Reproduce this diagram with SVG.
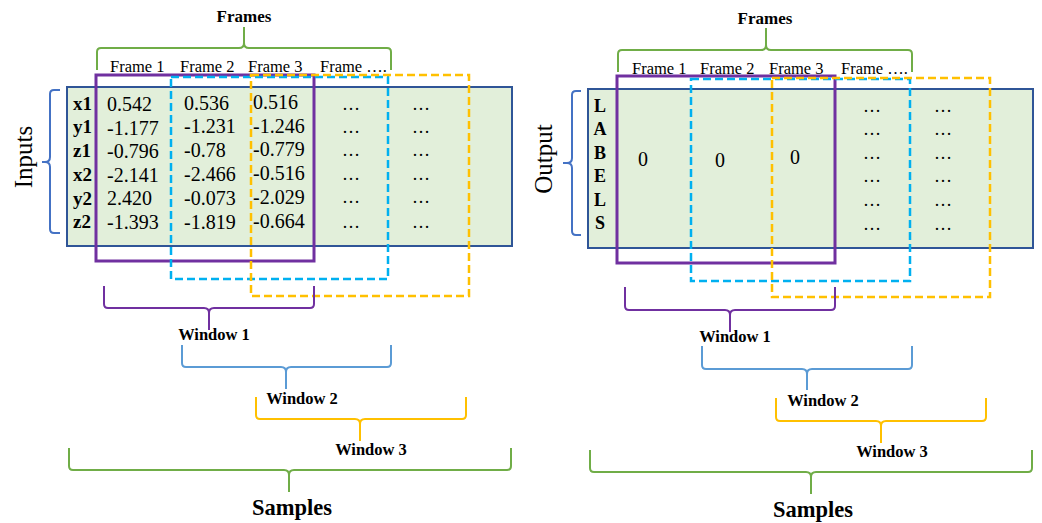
<svg xmlns="http://www.w3.org/2000/svg" width="1042" height="523" viewBox="0 0 1042 523">
<style>
text{font-family:"Liberation Serif","Times New Roman",serif;fill:#000}
.val{font-size:20px}
.lab{font-size:19px;font-weight:bold}
.lab2{font-size:18px;font-weight:bold;text-anchor:middle}
.fr{font-size:16.5px}
.ttl{font-size:17px;font-weight:bold;text-anchor:middle}
.win{font-size:16.5px;font-weight:bold;text-anchor:middle}
.smp{font-size:22.5px;font-weight:bold;text-anchor:middle}
.side{font-size:25px;text-anchor:middle}
.dot{font-size:18px;text-anchor:middle}
.zero{font-size:20px;text-anchor:middle}
.tbl{fill:#e2efda;stroke:#2f5597;stroke-width:2}
.br{fill:none;stroke-width:2}
.w1{fill:none;stroke:#7030a0;stroke-width:3}
.w2{fill:none;stroke:#00b0f0;stroke-width:2.5;stroke-dasharray:8 4}
.w3{fill:none;stroke:#ffc000;stroke-width:2.5;stroke-dasharray:8 4}
</style>

<g id="left-panel">
  <g id="left-table">
    <rect class="tbl" x="67" y="87" width="445" height="159"/>
    <g class="lab">
      <text x="73" y="110">x1</text><text x="73" y="133">y1</text><text x="73" y="157">z1</text>
      <text x="73" y="181">x2</text><text x="73" y="205">y2</text><text x="73" y="228">z2</text>
    </g>
    <g class="val">
      <text x="107" y="111">0.542</text><text x="107" y="135">-1.177</text><text x="107" y="158">-0.796</text>
      <text x="107" y="182">-2.141</text><text x="107" y="205">2.420</text><text x="107" y="229">-1.393</text>
      <text x="184" y="110">0.536</text><text x="184" y="133">-1.231</text><text x="184" y="157">-0.78</text>
      <text x="184" y="181">-2.466</text><text x="184" y="205">-0.073</text><text x="184" y="229">-1.819</text>
      <text x="253" y="109">0.516</text><text x="253" y="133">-1.246</text><text x="253" y="156">-0.779</text>
      <text x="253" y="180">-0.516</text><text x="253" y="204">-2.029</text><text x="253" y="228">-0.664</text>
    </g>
    <g class="dot">
      <text x="351" y="110">…</text><text x="351" y="133">…</text><text x="351" y="156">…</text>
      <text x="351" y="180">…</text><text x="351" y="203">…</text><text x="351" y="228">…</text>
      <text x="421" y="110">…</text><text x="421" y="133">…</text><text x="421" y="156">…</text>
      <text x="421" y="180">…</text><text x="421" y="203">…</text><text x="421" y="228">…</text>
    </g>
  </g>
  <g id="left-frames">
    <text class="ttl" x="244" y="22">Frames</text>
    <text class="fr" x="110" y="72">Frame 1</text>
    <text class="fr" x="180" y="72">Frame 2</text>
    <text class="fr" x="248" y="72">Frame 3</text>
    <text class="fr" x="320" y="72">Frame ….</text>
  </g>
  <text id="left-inputs" class="side" transform="translate(32,157) rotate(-90)">Inputs</text>
  <g id="left-windows">
    <rect class="w1" x="96" y="75" width="218" height="186"/>
    <rect class="w2" x="171" y="77" width="217" height="202"/>
    <rect class="w3" x="251" y="75" width="218" height="221"/>
  </g>
  <g id="left-labels">
    <text class="win" x="214" y="340">Window 1</text>
    <text class="win" x="302" y="404">Window 2</text>
    <text class="win" x="371" y="455">Window 3</text>
    <text class="smp" x="292" y="515">Samples</text>
  </g>
</g>

<g id="right-panel">
  <g id="right-table">
    <rect class="tbl" x="588" y="89" width="445" height="159"/>
    <g class="lab2">
      <text x="600" y="112">L</text><text x="600" y="135">A</text><text x="600" y="159">B</text>
      <text x="600" y="182">E</text><text x="600" y="206">L</text><text x="600" y="229">S</text>
    </g>
    <g class="zero">
      <text x="643" y="166">0</text><text x="720" y="167">0</text><text x="795" y="164">0</text>
    </g>
    <g class="dot">
      <text x="872" y="112">…</text><text x="872" y="135">…</text><text x="872" y="159">…</text>
      <text x="872" y="182">…</text><text x="872" y="206">…</text><text x="872" y="230">…</text>
      <text x="943" y="112">…</text><text x="943" y="135">…</text><text x="943" y="159">…</text>
      <text x="943" y="182">…</text><text x="943" y="206">…</text><text x="943" y="230">…</text>
    </g>
  </g>
  <g id="right-frames">
    <text class="ttl" x="765" y="24">Frames</text>
    <text class="fr" x="632" y="74">Frame 1</text>
    <text class="fr" x="700" y="74">Frame 2</text>
    <text class="fr" x="769" y="74">Frame 3</text>
    <text class="fr" x="841" y="74">Frame ….</text>
  </g>
  <text id="right-output" class="side" transform="translate(552,159) rotate(-90)">Output</text>
  <g id="right-windows">
    <rect class="w1" x="617" y="76" width="218" height="187"/>
    <rect class="w2" x="691" y="79" width="219" height="202"/>
    <rect class="w3" x="772" y="78" width="218" height="219"/>
  </g>
  <g id="right-labels">
    <text class="win" x="735" y="342">Window 1</text>
    <text class="win" x="823" y="406">Window 2</text>
    <text class="win" x="892" y="457">Window 3</text>
    <text class="smp" x="813" y="517">Samples</text>
  </g>
</g>

<g id="connectors">
  <path class="br" stroke="#70ad47" d="M97,70 L97,52 Q97,48 101,48 L239,48 Q244,48 244,43 L244,27 M391,70 L391,52 Q391,48 387,48 L249,48 Q244,48 244,43"/>
  <path class="br" stroke="#4472c4" d="M60,90 L54,90 Q50,90 50,94 L50,157 Q50,162 45,162 L42,162 M60,233 L54,233 Q50,233 50,229 L50,167 Q50,162 45,162"/>
  <path class="br" stroke="#7030a0" d="M104,286 L104,304 Q104,308 108,308 L204,308 Q209,308 209,313 L209,330 M314,286 L314,304 Q314,308 310,308 L214,308 Q209,308 209,313"/>
  <path class="br" stroke="#5b9bd5" d="M182,345 L182,363 Q182,367 186,367 L281,367 Q286,367 286,372 L286,389 M391,345 L391,363 Q391,367 387,367 L291,367 Q286,367 286,372"/>
  <path class="br" stroke="#ffc000" d="M256,397 L256,415 Q256,419 260,419 L355,419 Q360,419 360,424 L360,441 M466,397 L466,415 Q466,419 462,419 L365,419 Q360,419 360,424"/>
  <path class="br" stroke="#70ad47" d="M69,448 L69,466 Q69,470 73,470 L284,470 Q289,470 289,475 L289,492 M511,448 L511,466 Q511,470 507,470 L294,470 Q289,470 289,475"/>

  <path class="br" stroke="#70ad47" d="M618,72 L618,54 Q618,50 622,50 L761,50 Q766,50 766,45 L766,28 M912,72 L912,54 Q912,50 908,50 L771,50 Q766,50 766,45"/>
  <path class="br" stroke="#4472c4" d="M581,91 L576,91 Q572,91 572,95 L572,158 Q572,163 567,163 L563,163 M581,235 L576,235 Q572,235 572,231 L572,168 Q572,163 567,163"/>
  <path class="br" stroke="#7030a0" d="M625,287 L625,306 Q625,310 629,310 L725,310 Q730,310 730,315 L730,332 M835,287 L835,306 Q835,310 831,310 L735,310 Q730,310 730,315"/>
  <path class="br" stroke="#5b9bd5" d="M702,346 L702,365 Q702,369 706,369 L802,369 Q807,369 807,374 L807,390 M912,346 L912,365 Q912,369 908,369 L812,369 Q807,369 807,374"/>
  <path class="br" stroke="#ffc000" d="M776,398 L776,417 Q776,421 780,421 L876,421 Q881,421 881,426 L881,443 M986,398 L986,417 Q986,421 982,421 L886,421 Q881,421 881,426"/>
  <path class="br" stroke="#70ad47" d="M590,450 L590,468 Q590,472 594,472 L806,472 Q811,472 811,477 L811,494 M1032,450 L1032,468 Q1032,472 1028,472 L816,472 Q811,472 811,477"/>
</g>
</svg>
